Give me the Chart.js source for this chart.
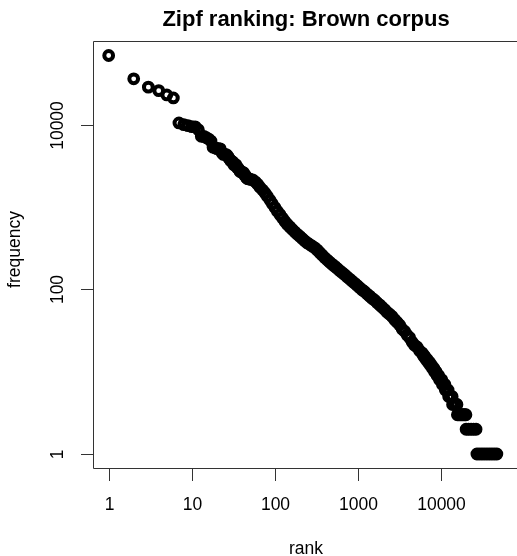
<!DOCTYPE html>
<html>
<head>
<meta charset="utf-8">
<script src="https://cdn.jsdelivr.net/npm/chart.js@4.4.1/dist/chart.umd.min.js"></script>
<style>
  html, body { margin: 0; padding: 0; background: #fff; }
  #chart { display: block; }
</style>
</head>
<body>
<canvas id="chart" width="517" height="556"></canvas>
<script>
// Zipf ranking - Brown corpus (rank vs frequency, log-log)

// ranks 1..50, one frequency per rank
const headFreqs = [69971, 36412, 28853, 26158, 23195, 21337, 10594, 10109, 9815, 9548,
    9489, 8760, 7289, 7253, 6996, 6741, 6377, 5372, 5306, 5164,
    5146, 5133, 4610, 4394, 4381, 4370, 4206, 3942, 3740, 3620,
    3561, 3292, 3286, 3284, 3036, 3001, 2860, 2728, 2714, 2670,
    2653, 2619, 2472, 2439, 2331, 2252, 2245, 2216, 2203, 2199];

// body of the curve, read along the band
const bodyRanks = [54, 58, 62, 66, 71, 76, 81, 87, 93, 100,
    107, 115, 123, 132, 141, 151, 162, 174, 186, 200,
    214, 229, 245, 263, 282, 302, 324, 347, 372, 398,
    427, 457, 490, 525, 562, 603, 646, 692, 741, 794,
    851, 912, 977, 1047, 1122, 1202, 1288, 1380, 1479, 1585,
    1698, 1820, 1950, 2089, 2239, 2399, 2570, 2754, 2951, 3162,
    3388, 3631, 3890, 4169, 4467, 4786, 5129, 5495, 5888];
const bodyFreqs = [2150, 2040, 1905, 1754, 1618, 1489, 1358, 1222, 1102, 991,
    895, 813, 740, 671, 619, 577, 537, 500, 469, 441,
    414, 389, 369, 352, 336, 321, 301, 280, 261, 243,
    228, 215, 202, 191, 180, 169, 160, 151, 142, 134,
    126, 119, 112, 105, 99, 94, 88, 83, 78, 74,
    69, 65, 61, 57, 53, 50, 47, 43, 40, 37,
    33, 31, 28, 26, 23, 21, 20, 18, 17];

// tail: small integer frequencies form steps
const tailRanks = [6026, 6166, 6310, 6457, 6607, 6839, 6998, 7244, 7413, 7674,
    7852, 8166, 8318, 8710, 8913, 9333, 9550, 9886, 10186, 10351,
    10715, 11092, 11220, 11614, 12106, 12303, 12735, 13183, 13552, 13709,
    14191, 14689, 15205, 15488, 15668, 16218, 16788, 17378, 17989, 18621,
    19275, 19861, 19953, 21380, 22909, 24547, 26303, 26915, 28840, 30903,
    33113, 35481, 38019, 40738, 43652, 46774];
const tailFreqs = [16, 16, 15, 15, 14, 14, 13, 13, 12, 12,
    11, 11, 10, 10, 9, 9, 8, 8, 8, 7,
    7, 7, 6, 6, 6, 5, 5, 5, 5, 4,
    4, 4, 4, 4, 3, 3, 3, 3, 3, 3,
    3, 3, 2, 2, 2, 2, 2, 1, 1, 1,
    1, 1, 1, 1, 1, 1];

const xTicks = [1, 10, 100, 1000, 10000];
const xTickLabels = ['1', '10', '100', '1000', '10000'];
const yTicks = [1, 100, 10000];
const yTickLabels = ['1', '100', '10000'];

const TITLE = 'Zipf ranking: Brown corpus';
const X_TITLE = 'rank';
const Y_TITLE = 'frequency';

const FONT = "'Liberation Sans', Arial, Helvetica, sans-serif";
const AXIS_COLOR = '#333';

const points = [];
headFreqs.forEach((f, i) => points.push({ x: i + 1, y: f }));
bodyRanks.forEach((r, i) => points.push({ x: r, y: bodyFreqs[i] }));
tailRanks.forEach((r, i) => points.push({ x: r, y: tailFreqs[i] }));

// eixos, rótulos e título no estilo do R base
const rAxes = {
    id: 'rAxes',
    afterDraw(chart) {
        const { ctx, chartArea: a, scales: { x, y } } = chart;
        ctx.save();
        ctx.strokeStyle = AXIS_COLOR;
        ctx.lineWidth = 1;

        // caixa (o lado direito fica fora da imagem)
        ctx.beginPath();
        ctx.moveTo(chart.width + 10, a.top - 0.5);
        ctx.lineTo(a.left + 0.5, a.top - 0.5);
        ctx.lineTo(a.left + 0.5, a.bottom - 0.5);
        ctx.lineTo(chart.width + 10, a.bottom - 0.5);
        ctx.stroke();

        ctx.fillStyle = '#000';
        ctx.font = '17.5px ' + FONT;
        ctx.textAlign = 'center';
        ctx.textBaseline = 'alphabetic';

        xTicks.forEach((v, i) => {
            const px = Math.round(x.getPixelForValue(v)) + 0.5;
            ctx.beginPath();
            ctx.moveTo(px, a.bottom - 0.5);
            ctx.lineTo(px, a.bottom + 12);
            ctx.stroke();
            ctx.fillText(xTickLabels[i], px, 510);
        });

        yTicks.forEach((v, i) => {
            const py = Math.round(y.getPixelForValue(v)) + 0.5;
            ctx.beginPath();
            ctx.moveTo(a.left + 0.5, py);
            ctx.lineTo(a.left - 12, py);
            ctx.stroke();
            ctx.save();
            ctx.translate(63, py);
            ctx.rotate(-Math.PI / 2);
            ctx.fillText(yTickLabels[i], 0, 0);
            ctx.restore();
        });

        // títulos dos eixos
        ctx.fillText(X_TITLE, 306, 554);
        ctx.save();
        ctx.translate(20, (a.top + a.bottom) / 2 - 6);
        ctx.rotate(-Math.PI / 2);
        ctx.fillText(Y_TITLE, 0, 0);
        ctx.restore();

        ctx.font = 'bold 22px ' + FONT;
        ctx.fillText(TITLE, 306, 26);
        ctx.restore();
    }
};

new Chart(document.getElementById('chart').getContext('2d'), {
    type: 'scatter',
    data: {
        datasets: [{
            label: 'freq',
            data: points,
            showLine: false,
            pointStyle: 'circle',
            pointRadius: 4.4,
            pointBorderWidth: 4,
            pointBorderColor: '#000',
            pointBackgroundColor: 'rgba(0,0,0,0)',
            pointHoverRadius: 4.4
        }]
    },
    options: {
        responsive: false,
        animation: false,
        layout: { padding: { left: 93, top: 42, right: 0, bottom: 87 } },
        plugins: {
            legend: { display: false },
            title: { display: false },
            tooltip: { enabled: false }
        },
        scales: {
            x: {
                type: 'logarithmic',
                display: false,
                bounds: 'data',
                min: 0.6475,
                max: 64760
            },
            y: {
                type: 'logarithmic',
                display: false,
                bounds: 'data',
                min: 0.657,
                max: 102100
            }
        }
    },
    plugins: [rAxes]
});
</script>
</body>
</html>
